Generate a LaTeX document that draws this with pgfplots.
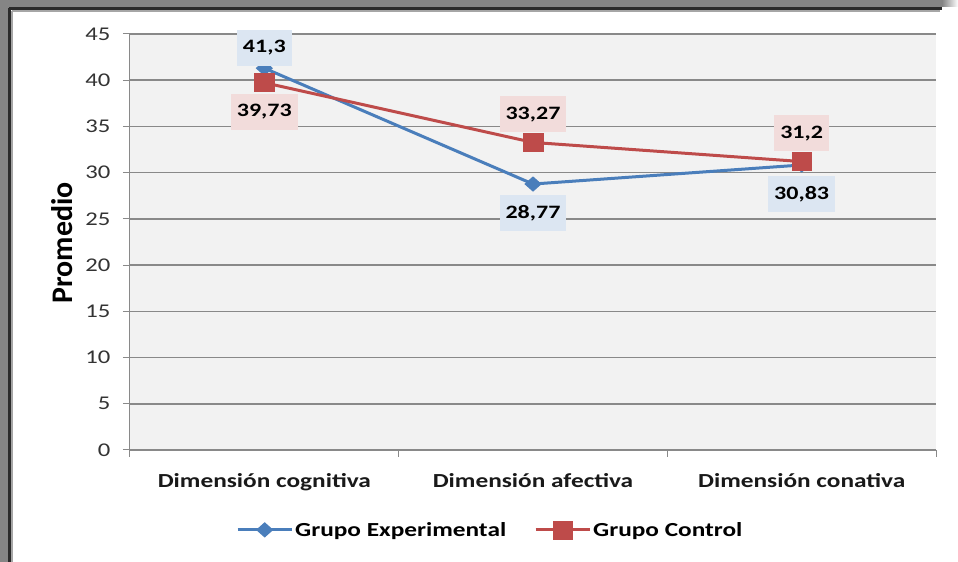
\documentclass[border=0pt]{standalone}
\usepackage{pgfplots}
\pgfplotsset{compat=1.18}
\usepackage{fontspec}
\setmainfont{Carlito}[FakeStretch=1.27]
\newfontfamily\ylabfont{Carlito}
\definecolor{blueS}{HTML}{4A7EBB}
\definecolor{redS}{HTML}{BE4B4A}
\definecolor{blueL}{HTML}{DCE6F2}
\definecolor{redL}{HTML}{F2DCDB}
\definecolor{plotbg}{HTML}{F2F2F2}
\definecolor{gridc}{HTML}{898989}
\definecolor{frameg}{HTML}{858585}
\definecolor{framed}{HTML}{2B2B2B}
\begin{document}
\begin{tikzpicture}[x=1bp,y=1bp]
% pixel (px,py) -> (px-130, 450-py)
\useasboundingbox[fill=white] (-130,-112) rectangle (828,450);
\fill[frameg] (-130,443) rectangle (812,450);
\shade[left color=frameg,right color=white] (812,443) rectangle (828,450);
\fill[frameg] (-130,-112) rectangle (-121,450);
\draw[framed,line width=2.5bp] (-120.5,441.5) -- (812,441.5);
\draw[framed,line width=2.5bp] (-120.5,-112) -- (-120.5,441.5);
\draw[gray!70,line width=1.5bp] (-118,439) -- (810,439);
\draw[gray!70,line width=1.5bp] (-118,-112) -- (-118,439);
\begin{axis}[
  at={(0,0)}, anchor=south west,
  scale only axis, width=806bp, height=416bp,
  xmin=-0.5, xmax=2.5, ymin=0, ymax=45,
  axis background/.style={fill=plotbg},
  axis x line*=bottom, axis y line*=left,
  axis line style={gridc, line width=1bp},
  tick align=outside,
  major tick length=7bp,
  tick style={gridc, line width=1bp},
  xtick={-0.5,0.5,1.5,2.5}, xticklabels={},
  extra x ticks={0,1,2},
  extra x tick labels={Dimensión cognitiva,Dimensión afectiva,Dimensión conativa},
  extra x tick style={major tick length=0pt, grid=none,
     tick label style={font=\bfseries\fontsize{20}{22}\selectfont, text=black!90, yshift=-20bp}},
  ytick={0,5,...,45},
  ymajorgrids, grid style={gridc, line width=1.6bp},
  yticklabel style={font=\fontsize{19.5}{21}\selectfont, text=black!80, xshift=-9bp},
  /pgf/number format/assume math mode=true,
  every axis y label/.style={at={(axis description cs:-0.0844,0.4976)}, rotate=90, anchor=center,
     font=\ylabfont\bfseries\fontsize{30}{32}\selectfont},
  ylabel={Promedio},
  legend style={at={(0.447,-0.192)}, anchor=center, draw=none, fill=none,
     font=\bfseries\fontsize{20}{22}\selectfont, legend columns=2,
     /tikz/every even column/.append style={column sep=26bp}},
  legend image code/.code={\draw[mark repeat=2,mark phase=2,#1] plot coordinates {(0bp,0bp)(27bp,0bp)(54bp,0bp)};},
  clip=false,
]
\addplot[blueS, line width=3bp, mark=diamond*, mark size=7bp, mark options={solid, fill=blueS, line width=1bp, xscale=1.5}]
  coordinates {(0,41.3)(1,28.77)(2,30.83)};
\addlegendentry{Grupo Experimental}
\addplot[redS, line width=3bp, mark=square*, mark size=9bp, mark options={solid, fill=redS, line width=0.5bp, xscale=1.1}]
  coordinates {(0,39.73)(1,33.27)(2,31.2)};
\addlegendentry{Grupo Control}
% data labels
\addplot[draw=none, forget plot, nodes near coords, point meta=explicit symbolic,
  every node near coord/.style={anchor=south, fill=blueL, text=black, font=\bfseries\fontsize{19}{21}\selectfont,
    inner xsep=6bp, inner ysep=0bp, minimum height=36bp, yshift=2bp}]
  coordinates {(0,41.3)[41,3]};
\addplot[draw=none, forget plot, nodes near coords, point meta=explicit symbolic,
  every node near coord/.style={anchor=south, fill=blueL, text=black, font=\bfseries\fontsize{19}{21}\selectfont,
    inner xsep=6bp, inner ysep=0bp, minimum height=36bp, yshift=-47bp}]
  coordinates {(1,28.77)[28,77] (2,30.83)[30,83]};
\addplot[draw=none, forget plot, nodes near coords, point meta=explicit symbolic,
  every node near coord/.style={anchor=south, fill=redL, text=black, font=\bfseries\fontsize{19}{21}\selectfont,
    inner xsep=6bp, inner ysep=0bp, minimum height=36bp, yshift=-47bp}]
  coordinates {(0,39.73)[39,73]};
\addplot[draw=none, forget plot, nodes near coords, point meta=explicit symbolic,
  every node near coord/.style={anchor=south, fill=redL, text=black, font=\bfseries\fontsize{19}{21}\selectfont,
    inner xsep=6bp, inner ysep=0bp, minimum height=36bp, yshift=10bp}]
  coordinates {(1,33.27)[33,27] (2,31.2)[31,2]};
\end{axis}
\end{tikzpicture}
\end{document}
